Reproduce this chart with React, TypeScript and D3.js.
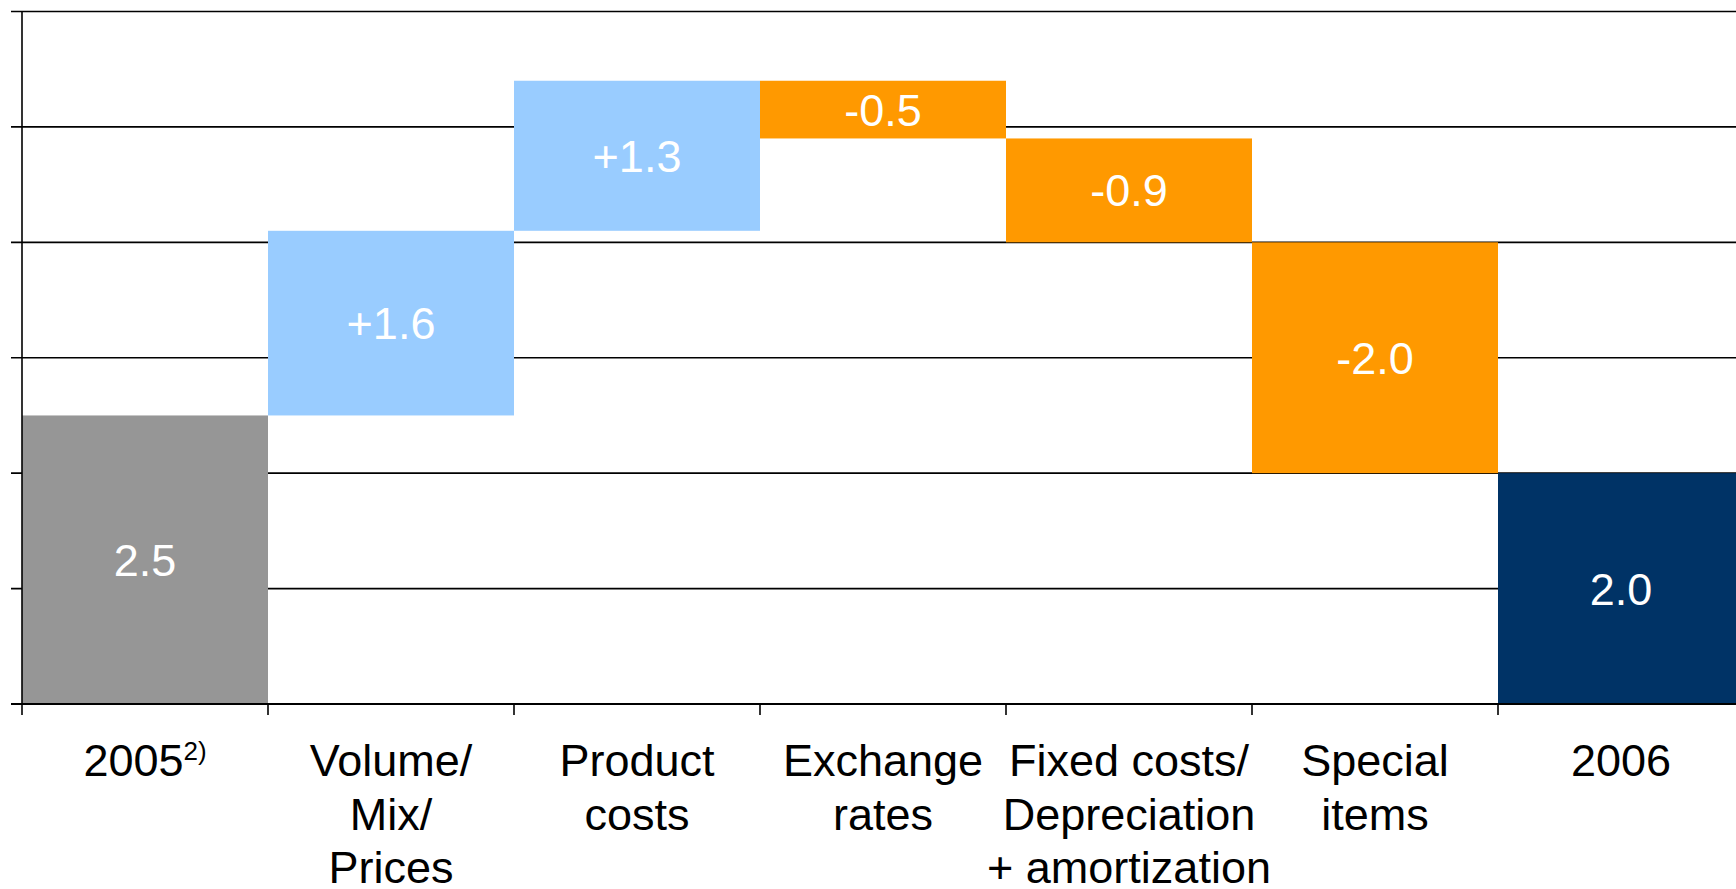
import React from "react";
import * as d3 from "d3";

const categories = ["2005", "Volume/Mix/Prices", "Product costs", "Exchange rates", "Fixed costs/Depreciation + amortization", "Special items", "2006"];
const categoryLines: string[][] = [
  ["2005"],
  ["Volume/", "Mix/", "Prices"],
  ["Product", "costs"],
  ["Exchange", "rates"],
  ["Fixed costs/", "Depreciation", "+ amortization"],
  ["Special", "items"],
  ["2006"],
];
const values = [2.5, 1.6, 1.3, -0.5, -0.9, -2.0, 2.0];
const kinds = ["start", "delta", "delta", "delta", "delta", "delta", "total"];
const yTicks = [0, 1, 2, 3, 4, 5, 6];

const W = 1736;
const H = 889;
const FONT = "'Liberation Sans', Arial, Helvetica, sans-serif";

export default function App() {
  const x = d3.scaleBand<string>().domain(categories).range([22, 22 + 246 * 7]).padding(0);
  const y = d3.scaleLinear().domain([0, 6]).range([704, 11.5]);

  let run = 0;
  const bars = values.map((v, i) => {
    let lo: number, hi: number;
    if (kinds[i] === "delta") {
      lo = Math.min(run, run + v);
      hi = Math.max(run, run + v);
      run += v;
    } else {
      lo = 0;
      hi = v;
      run = v;
    }
    const color =
      kinds[i] === "start" ? "#969696" : kinds[i] === "total" ? "#003366" : v >= 0 ? "#99CCFF" : "#FF9900";
    const label = (kinds[i] === "delta" && v >= 0 ? "+" : "") + v.toFixed(1);
    return { cat: categories[i], lo, hi, color, label };
  });

  const boundaries = categories.map((c) => x(c)!);

  return (
    <svg
      width={W}
      height={H}
      style={{ position: "absolute", left: 0, top: 0, background: "#fff" }}
      fontFamily={FONT}
    >
      <rect x={0} y={0} width={W} height={H} fill="#fff" />
      {yTicks.map((t) => (
        <line key={"g" + t} x1={11} x2={W} y1={y(t)} y2={y(t)} stroke="#000" strokeWidth={1.6} />
      ))}
      {bars.map((b, i) => (
        <rect
          key={"b" + i}
          x={x(b.cat)!}
          y={y(b.hi)}
          width={x.bandwidth()}
          height={y(b.lo) - y(b.hi)}
          fill={b.color}
        />
      ))}
      {bars.map((b, i) => (
        <text
          key={"t" + i}
          x={x(b.cat)! + x.bandwidth() / 2}
          y={(y(b.lo) + y(b.hi)) / 2 + 16}
          textAnchor="middle"
          fontSize={45}
          fill="#fff"
        >
          {b.label}
        </text>
      ))}
      <line x1={22} x2={22} y1={11.5} y2={704} stroke="#000" strokeWidth={1.6} />
      <line x1={11} x2={W} y1={704} y2={704} stroke="#000" strokeWidth={1.8} />
      {boundaries.map((bx, i) => (
        <line key={"xt" + i} x1={bx} x2={bx} y1={704} y2={715} stroke="#000" strokeWidth={1.6} />
      ))}
      {categoryLines.map((lines, i) => (
        <text
          key={"c" + i}
          x={x(categories[i])! + x.bandwidth() / 2}
          y={776}
          textAnchor="middle"
          fontSize={45}
          fill="#000"
        >
          {lines.map((ln, j) => (
            <tspan key={j} x={x(categories[i])! + x.bandwidth() / 2} y={776 + j * 53.5}>
              {ln}
              {i === 0 && j === 0 ? (
                <tspan fontSize={26} dy={-16}>
                  2)
                </tspan>
              ) : null}
            </tspan>
          ))}
        </text>
      ))}
    </svg>
  );
}
